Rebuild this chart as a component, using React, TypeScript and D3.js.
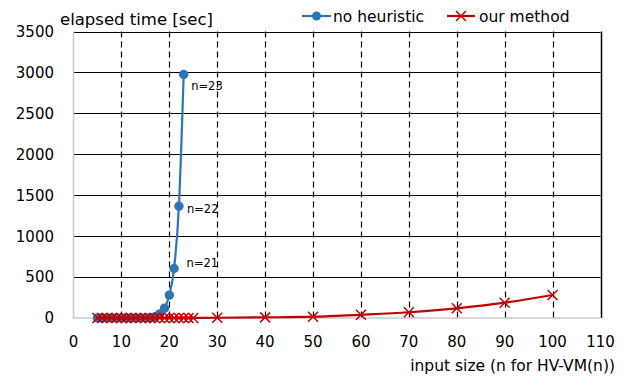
import React, { useEffect, useRef } from 'react';
import * as d3 from 'd3';

// no heuristic (HV-VM(n) without pruning), n = 5..23
const blueN = [5, 6, 7, 8, 9, 10, 11, 12, 13, 14, 15, 16, 17, 18, 19, 20, 21, 22, 23];
const blueT = [0, 0, 0, 0, 0, 0, 0, 0, 1, 1, 2, 5, 15, 50, 120, 280, 605, 1365, 2975];

// our method, n = 5..25 then 30..100
const redN = [5, 6, 7, 8, 9, 10, 11, 12, 13, 14, 15, 16, 17, 18, 19, 20, 21, 22, 23, 24, 25, 30, 40, 50, 60, 70, 80, 90, 100];
const redT = [0, 0, 0, 0, 0, 0, 0, 0, 0, 0, 0, 0, 0, 0, 0, 1, 1, 1, 1, 1, 1, 3, 8, 16, 40, 70, 118, 187, 281];

const xTicks = [0, 10, 20, 30, 40, 50, 60, 70, 80, 90, 100, 110];
const yTicks = [0, 500, 1000, 1500, 2000, 2500, 3000, 3500];

const labelN = [23, 22, 21];
const labelText = ['n=23', 'n=22', 'n=21'];

const BLUE = '#2e75b6';
const RED = '#c00000';
const FONT = '"DejaVu Sans", sans-serif';

const App = () => {
  const svgRef = useRef<SVGSVGElement>(null);

  useEffect(() => {
    const svg = d3.select(svgRef.current);
    svg.selectAll('*').remove();

    const left = 73.5, right = 600.5, top = 31.5, bottom = 318;
    const x = d3.scaleLinear().domain([0, 110]).range([left, right]);
    const y = d3.scaleLinear().domain([0, 3500]).range([bottom, top]);

    // horizontal grid (solid)
    svg.append('g')
      .selectAll('line')
      .data(yTicks.filter(d => d > 0))
      .enter()
      .append('line')
      .attr('x1', left).attr('x2', right)
      .attr('y1', d => Math.round(y(d)) + 0.5).attr('y2', d => Math.round(y(d)) + 0.5)
      .attr('stroke', '#000').attr('stroke-width', 1.2);

    // vertical grid (dashed)
    svg.append('g')
      .selectAll('line')
      .data(xTicks.filter(d => d > 0 && d < 110))
      .enter()
      .append('line')
      .attr('x1', d => Math.round(x(d)) + 0.5).attr('x2', d => Math.round(x(d)) + 0.5)
      .attr('y1', top).attr('y2', bottom)
      .attr('stroke', '#000').attr('stroke-width', 1.2)
      .attr('stroke-dasharray', '6,4');

    // right border
    svg.append('line')
      .attr('x1', Math.round(x(110)) + 0.5).attr('x2', Math.round(x(110)) + 0.5)
      .attr('y1', top).attr('y2', bottom)
      .attr('stroke', '#000').attr('stroke-width', 1.5);

    // axes (light gray)
    svg.append('line')
      .attr('x1', left).attr('x2', left).attr('y1', top).attr('y2', bottom)
      .attr('stroke', '#c8c8c8').attr('stroke-width', 1.5);
    svg.append('line')
      .attr('x1', left).attr('x2', right).attr('y1', bottom).attr('y2', bottom)
      .attr('stroke', '#c8c8c8').attr('stroke-width', 1.5);

    // tick labels
    svg.append('g')
      .selectAll('text')
      .data(yTicks)
      .enter()
      .append('text')
      .attr('x', 54).attr('y', d => y(d)).attr('dy', '0.36em')
      .attr('text-anchor', 'end')
      .style('font-family', FONT).style('font-size', '15px').attr('fill', '#000')
      .text(d => d);

    svg.append('g')
      .selectAll('text')
      .data(xTicks)
      .enter()
      .append('text')
      .attr('x', d => x(d)).attr('y', 347)
      .attr('text-anchor', 'middle')
      .style('font-family', FONT).style('font-size', '15px').attr('fill', '#000')
      .text(d => d);

    // axis titles
    svg.append('text')
      .attr('x', 60).attr('y', 25)
      .style('font-family', FONT).style('font-size', '16.5px')
      .text('elapsed time [sec]');
    svg.append('text')
      .attr('x', 615).attr('y', 371)
      .attr('text-anchor', 'end')
      .style('font-family', FONT).style('font-size', '15.5px')
      .text('input size (n for HV-VM(n))');

    const curve = d3.line().curve(d3.curveMonotoneX);
    const cross = 5;
    const xPath = (d: [number, number]) =>
      `M${d[0] - cross},${d[1] - cross}L${d[0] + cross},${d[1] + cross}M${d[0] - cross},${d[1] + cross}L${d[0] + cross},${d[1] - cross}`;

    // no heuristic
    const bluePts = blueN.map((n, i) => [x(n), y(blueT[i])] as [number, number]);
    svg.append('path')
      .attr('d', curve(bluePts))
      .attr('fill', 'none').attr('stroke', BLUE).attr('stroke-width', 2.2);
    svg.append('g')
      .selectAll('circle')
      .data(bluePts)
      .enter()
      .append('circle')
      .attr('cx', d => d[0]).attr('cy', d => d[1]).attr('r', 4.7)
      .attr('fill', BLUE);

    // our method (drawn over the blue series)
    const redPts = redN.map((n, i) => [x(n), y(redT[i])] as [number, number]);
    svg.append('path')
      .attr('d', curve(redPts))
      .attr('fill', 'none').attr('stroke', RED).attr('stroke-width', 2.2);
    svg.append('g')
      .selectAll('path')
      .data(redPts)
      .enter()
      .append('path')
      .attr('d', xPath)
      .attr('stroke', RED).attr('stroke-width', 1.5).attr('fill', 'none');

    // point labels
    const offsets = [[7.5, 16], [8, 7], [12.5, -1]];
    labelN.forEach((n, i) => {
      svg.append('text')
        .attr('x', x(n) + offsets[i][0])
        .attr('y', y(blueT[blueN.indexOf(n)]) + offsets[i][1])
        .style('font-family', FONT).style('font-size', '11.5px')
        .text(labelText[i]);
    });

    // legend
    const lg = svg.append('g').attr('transform', 'translate(0,16)');
    lg.append('line').attr('x1', 302).attr('x2', 331).attr('y1', 0).attr('y2', 0)
      .attr('stroke', BLUE).attr('stroke-width', 2.2);
    lg.append('circle').attr('cx', 316.5).attr('cy', 0).attr('r', 4.5).attr('fill', BLUE);
    lg.append('text').attr('x', 333).attr('y', 0).attr('dy', '0.36em')
      .style('font-family', FONT).style('font-size', '15.5px').text('no heuristic');
    lg.append('line').attr('x1', 447).attr('x2', 475).attr('y1', 0).attr('y2', 0)
      .attr('stroke', RED).attr('stroke-width', 2.2);
    lg.append('path')
      .attr('d', xPath([461, 0]))
      .attr('stroke', RED).attr('stroke-width', 1.5);
    lg.append('text').attr('x', 479).attr('y', 0).attr('dy', '0.36em')
      .style('font-family', FONT).style('font-size', '15.5px').text('our method');
  }, []);

  return (
    <svg ref={svgRef} width={628} height={376}
      style={{ position: 'absolute', left: 0, top: 0, background: '#fff' }} />
  );
};

export default App;
